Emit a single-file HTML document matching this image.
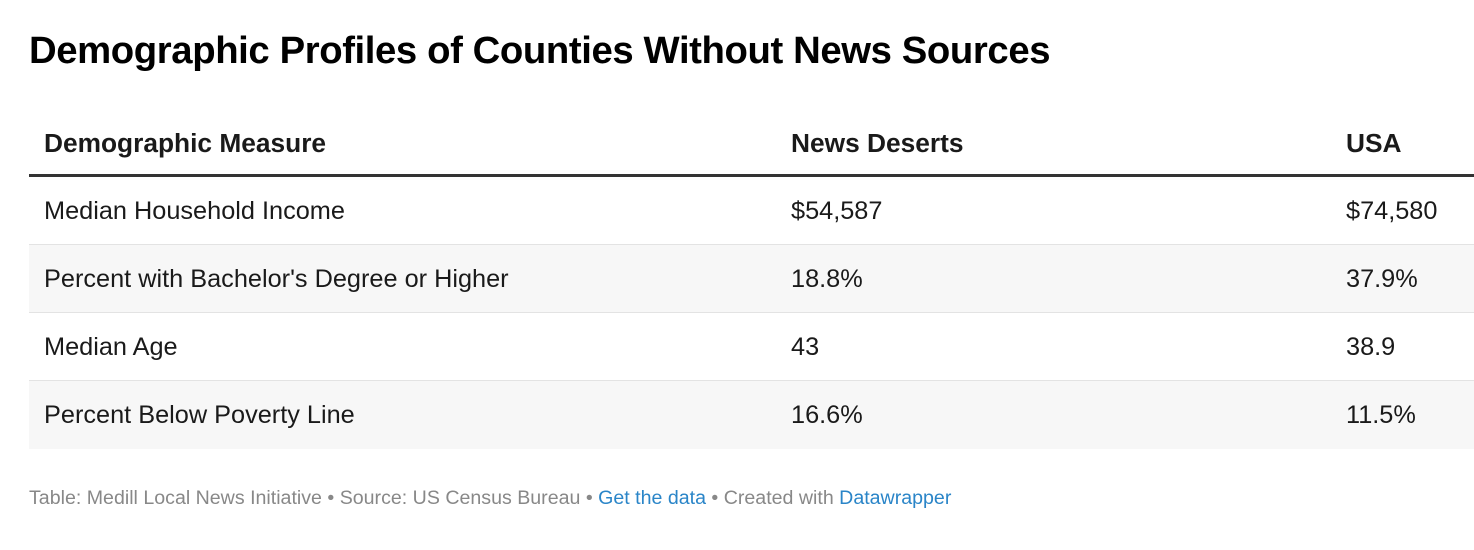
<!DOCTYPE html>
<html><head><meta charset="utf-8"><style>
body{margin:0;width:1474px;height:550px;background:#fff;font-family:"Liberation Sans",Arial,sans-serif;color:#1a1a1a;position:relative;overflow:hidden}
h1{position:absolute;left:29px;top:29px;margin:0;font-size:38.3px;font-weight:bold;letter-spacing:-0.4px;color:#000;white-space:nowrap}
.row{position:absolute;left:29px;width:1445px;height:67px;border-bottom:1px solid #e3e3e3;font-size:25.3px}
.row span{position:absolute;top:20px;white-space:nowrap}
.c1{left:15px}.c2{left:762px}.c3{left:1317px}
.hd{top:110px;height:64px;border-bottom:3px solid #333;font-weight:bold;font-size:26.3px}
.hd span{top:18px}
.alt{background:#f7f7f7}
.foot{position:absolute;left:29px;top:487px;font-size:19.6px;color:#888;white-space:nowrap}
.foot a{color:#2a85c8;text-decoration:none}
</style></head><body>
<h1>Demographic Profiles of Counties Without News Sources</h1>
<div class="row hd"><span class="c1">Demographic Measure</span><span class="c2">News Deserts</span><span class="c3">USA</span></div>
<div class="row" style="top:177px"><span class="c1">Median Household Income</span><span class="c2">$54,587</span><span class="c3">$74,580</span></div>
<div class="row alt" style="top:245px"><span class="c1">Percent with Bachelor's Degree or Higher</span><span class="c2">18.8%</span><span class="c3">37.9%</span></div>
<div class="row" style="top:313px"><span class="c1">Median Age</span><span class="c2">43</span><span class="c3">38.9</span></div>
<div class="row alt" style="top:381px;border-bottom:none;height:68px"><span class="c1">Percent Below Poverty Line</span><span class="c2">16.6%</span><span class="c3">11.5%</span></div>
<div class="foot">Table: Medill Local News Initiative • Source: US Census Bureau • <a>Get the data</a> • Created with <a>Datawrapper</a></div>
</body></html>
